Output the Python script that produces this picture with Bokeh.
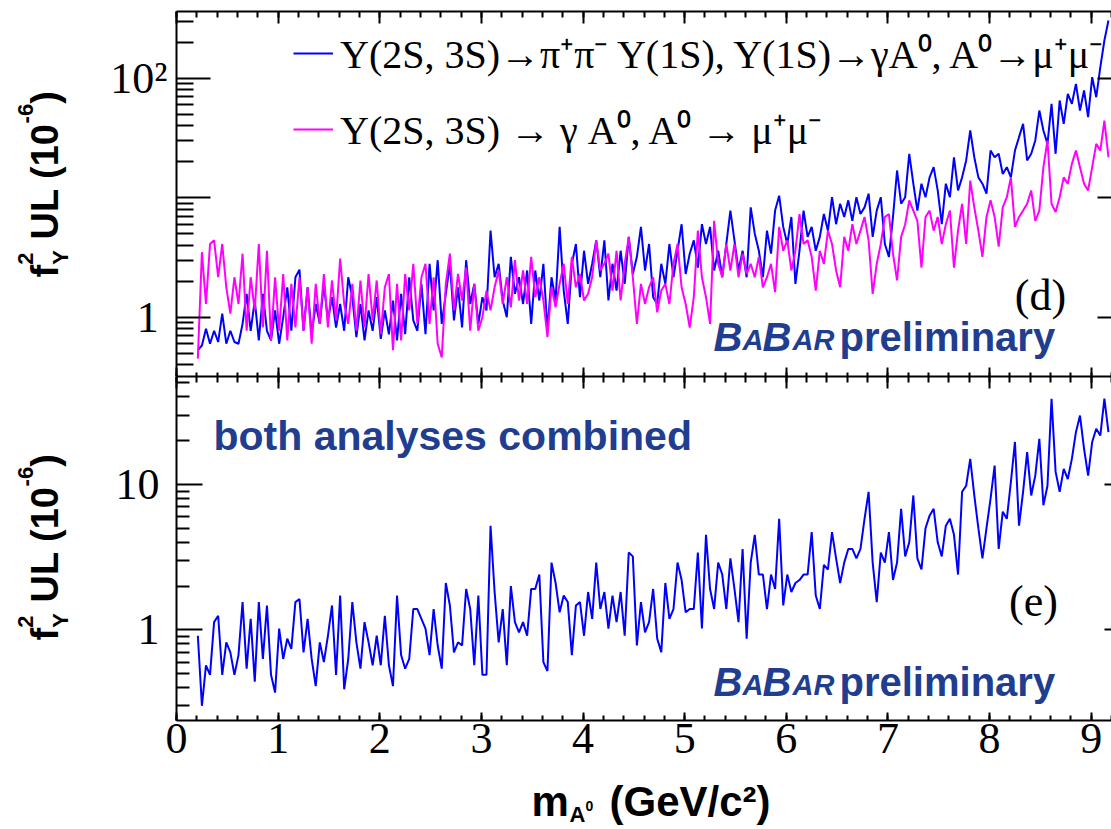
import math

from bokeh.embed import file_html
from bokeh.layouts import column, row
from bokeh.models import (CustomJSTickFormatter, FixedTicker, Label, Legend,
                          LegendItem, LinearAxis, LogAxis, Range1d)
from bokeh.plotting import figure
from bokeh.resources import INLINE

# ---------------------------------------------------------------------------
# Upper limits on f_Y^2 (units of 1e-6) versus A0 mass (GeV/c^2)
# ---------------------------------------------------------------------------
mass = [
    0.21, 0.25, 0.29, 0.33, 0.37, 0.41, 0.45, 0.49, 0.53, 0.57, 0.61, 0.65, 0.69, 0.73, 0.77,
    0.81, 0.85, 0.89, 0.93, 0.97, 1.01, 1.05, 1.09, 1.13, 1.17, 1.21, 1.25, 1.29, 1.33, 1.37,
    1.41, 1.45, 1.49, 1.53, 1.57, 1.61, 1.65, 1.69, 1.73, 1.77, 1.81, 1.85, 1.89, 1.93, 1.97,
    2.01, 2.05, 2.09, 2.13, 2.17, 2.21, 2.25, 2.29, 2.33, 2.37, 2.41, 2.45, 2.49, 2.53, 2.57,
    2.61, 2.65, 2.69, 2.73, 2.77, 2.81, 2.85, 2.89, 2.93, 2.97, 3.01, 3.05, 3.09, 3.13, 3.17,
    3.21, 3.25, 3.29, 3.33, 3.37, 3.41, 3.45, 3.49, 3.53, 3.57, 3.61, 3.65, 3.69, 3.73, 3.77,
    3.81, 3.85, 3.89, 3.93, 3.97, 4.01, 4.05, 4.09, 4.13, 4.17, 4.21, 4.25, 4.29, 4.33, 4.37,
    4.41, 4.45, 4.49, 4.53, 4.57, 4.61, 4.65, 4.69, 4.73, 4.77, 4.81, 4.85, 4.89, 4.93, 4.97,
    5.01, 5.05, 5.09, 5.13, 5.17, 5.21, 5.25, 5.29, 5.33, 5.37, 5.41, 5.45, 5.49, 5.53, 5.57,
    5.61, 5.65, 5.69, 5.73, 5.77, 5.81, 5.85, 5.89, 5.93, 5.97, 6.01, 6.05, 6.09, 6.13, 6.17,
    6.21, 6.25, 6.29, 6.33, 6.37, 6.41, 6.45, 6.49, 6.53, 6.57, 6.61, 6.65, 6.69, 6.73, 6.77,
    6.81, 6.85, 6.89, 6.93, 6.97, 7.01, 7.05, 7.09, 7.13, 7.17, 7.21, 7.25, 7.29, 7.33, 7.37,
    7.41, 7.45, 7.49, 7.53, 7.57, 7.61, 7.65, 7.69, 7.73, 7.77, 7.81, 7.85, 7.89, 7.93, 7.97,
    8.01, 8.05, 8.09, 8.13, 8.17, 8.21, 8.25, 8.29, 8.33, 8.37, 8.41, 8.45, 8.49, 8.53, 8.57,
    8.61, 8.65, 8.69, 8.73, 8.77, 8.81, 8.85, 8.89, 8.93, 8.97, 9.01, 9.05, 9.09, 9.13, 9.17,
]

# Y(2S,3S) -> pi+ pi- Y(1S), Y(1S) -> gamma A0, A0 -> mu+ mu-
ul_dipion = [
    0.53, 0.58, 0.80, 0.60, 0.77, 0.62, 1.07, 0.60, 0.77, 0.62, 0.60, 0.88, 1.57, 0.77, 1.38,
    0.64, 1.57, 0.77, 0.64, 1.14, 0.60, 1.00, 1.78, 0.77, 2.16, 2.50, 0.77, 1.78, 0.72, 1.29,
    0.88, 1.90, 0.94, 1.47, 0.82, 1.29, 0.77, 2.16, 1.47, 0.68, 1.29, 0.64, 1.14, 0.77, 1.47,
    0.66, 1.14, 0.72, 1.38, 0.64, 1.57, 0.72, 2.16, 0.94, 0.77, 1.90, 0.72, 2.80, 1.14, 3.00,
    0.88, 1.57, 2.80, 0.94, 1.78, 0.82, 3.00, 1.29, 1.90, 0.88, 1.47, 1.14, 5.30, 2.16, 2.80,
    1.38, 1.00, 3.20, 1.57, 2.16, 1.29, 2.46, 0.88, 2.46, 1.38, 2.80, 0.77, 2.16, 1.38, 5.70,
    1.67, 0.88, 2.80, 4.10, 1.47, 3.60, 1.90, 2.80, 4.40, 2.16, 4.40, 1.38, 2.80, 1.67, 3.60,
    1.90, 4.70, 2.30, 3.20, 5.70, 2.46, 4.10, 1.47, 1.29, 2.80, 1.90, 4.10, 2.16, 3.60, 6.00,
    2.30, 3.40, 4.40, 2.60, 6.00, 4.10, 5.70, 2.46, 3.60, 2.16, 4.10, 7.80, 4.40, 2.46, 3.60,
    2.16, 8.30, 5.00, 3.60, 2.16, 5.30, 3.40, 7.80, 10.4, 5.70, 4.10, 6.90, 1.90, 3.60, 7.80,
    4.70, 5.70, 3.60, 4.70, 7.30, 5.30, 10.1, 6.00, 8.90, 6.90, 9.50, 6.40, 10.1, 7.30, 8.30,
    10.8, 4.70, 7.80, 10.1, 4.10, 3.20, 6.90, 16.9, 8.90, 10.1, 23.3, 13.1, 7.80, 13.1, 10.1,
    14.8, 18.0, 11.5, 6.00, 13.1, 10.1, 21.8, 11.5, 14.8, 20.5, 36.5, 21.8, 14.8, 13.1, 10.8,
    24.8, 21.8, 23.3, 15.8, 18.0, 14.8, 24.8, 32.1, 41.5, 20.5, 23.3, 30.1, 53.6, 36.5, 28.2,
    61.0, 23.3, 65.0, 41.5, 74.0, 61.0, 89.7, 53.6, 78.9, 47.2, 101.9, 69.3, 123.6, 206.6, 303.9,
]

# Y(2S,3S) -> gamma A0, A0 -> mu+ mu-
ul_direct = [
    0.45, 3.50, 1.29, 4.10, 4.40, 2.16, 4.10, 1.78, 1.07, 2.16, 1.29, 3.40, 0.77, 2.16, 1.14,
    4.10, 0.82, 3.60, 0.64, 2.16, 0.77, 2.30, 0.64, 1.90, 0.82, 2.16, 0.77, 1.78, 0.60, 1.90,
    0.88, 2.30, 0.82, 2.03, 0.94, 3.10, 1.29, 0.88, 1.90, 0.77, 2.03, 0.82, 2.30, 0.94, 2.03,
    0.72, 1.78, 2.30, 0.53, 1.90, 0.64, 2.30, 1.14, 2.80, 0.88, 2.16, 2.80, 0.88, 2.16, 0.60,
    0.46, 1.90, 3.40, 1.14, 2.30, 1.38, 2.60, 0.77, 1.90, 0.77, 1.00, 1.67, 1.14, 1.78, 2.46,
    1.29, 2.16, 1.21, 3.00, 1.38, 2.46, 1.29, 3.20, 1.47, 2.16, 1.38, 0.68, 1.78, 1.21, 1.90,
    2.80, 1.29, 3.20, 1.78, 2.30, 1.38, 1.57, 2.16, 4.40, 2.46, 2.80, 3.40, 1.67, 3.60, 1.38,
    2.80, 4.70, 2.16, 0.88, 1.90, 1.29, 1.78, 2.16, 1.10, 1.67, 1.90, 1.29, 2.80, 4.10, 1.78,
    1.29, 0.82, 1.47, 5.30, 2.16, 1.47, 0.88, 6.40, 2.80, 2.16, 4.10, 2.46, 4.10, 2.16, 3.40,
    2.30, 2.80, 2.16, 3.20, 1.78, 2.16, 2.80, 1.62, 5.70, 3.60, 4.40, 2.46, 3.60, 7.30, 4.10,
    4.40, 3.20, 1.67, 3.60, 2.80, 5.30, 4.10, 2.46, 1.78, 4.70, 3.60, 6.00, 4.10, 5.30, 6.90,
    4.40, 1.57, 2.80, 4.10, 6.90, 7.30, 3.40, 2.03, 4.70, 6.00, 9.50, 7.80, 6.40, 2.60, 6.90,
    7.80, 5.30, 6.90, 4.10, 6.00, 7.80, 2.60, 5.30, 8.90, 4.10, 13.9, 8.30, 5.30, 3.20, 6.90,
    9.50, 6.90, 3.90, 8.30, 10.1, 14.8, 5.70, 6.90, 7.80, 8.90, 11.5, 6.40, 7.80, 18.0, 30.1,
    8.90, 7.60, 10.1, 14.8, 13.1, 19.2, 24.8, 18.0, 13.1, 11.5, 18.0, 28.2, 24.8, 44.2, 21.8,
]

# both analyses combined
ul_combined = [
    0.91, 0.30, 0.57, 0.49, 1.13, 1.25, 0.49, 0.82, 0.70, 0.49, 0.67, 1.55, 0.54, 1.19, 0.44,
    1.55, 0.63, 1.47, 0.49, 0.37, 1.02, 0.63, 0.87, 0.74, 1.55, 1.63, 0.70, 1.19, 0.63, 0.41,
    0.82, 0.60, 0.91, 1.47, 0.49, 1.72, 0.39, 0.63, 1.55, 0.82, 0.54, 1.13, 0.82, 0.57, 0.91,
    0.57, 1.25, 0.57, 0.41, 1.72, 0.67, 0.54, 0.63, 1.39, 1.39, 1.19, 1.02, 0.67, 1.39, 0.78,
    0.54, 2.10, 1.47, 0.70, 0.82, 0.78, 1.91, 1.39, 0.57, 1.72, 0.49, 0.49, 5.20, 1.82, 0.82,
    1.39, 0.57, 2.00, 1.13, 0.96, 1.13, 0.91, 1.91, 1.91, 2.40, 0.60, 0.52, 2.90, 2.10, 1.32,
    1.72, 1.55, 0.67, 1.47, 1.55, 0.91, 1.82, 1.19, 2.90, 1.39, 1.82, 1.02, 1.72, 1.13, 1.82,
    0.91, 3.40, 3.20, 0.78, 1.55, 0.96, 1.13, 1.91, 0.87, 0.70, 2.10, 1.19, 1.39, 2.90, 2.20,
    1.32, 1.39, 1.39, 3.40, 1.02, 4.50, 1.91, 1.39, 2.90, 2.40, 1.39, 3.10, 1.91, 1.13, 3.60,
    0.87, 2.90, 4.50, 2.40, 2.40, 1.39, 2.40, 1.91, 5.80, 1.47, 2.40, 1.82, 2.10, 2.20, 2.40,
    2.40, 4.70, 1.72, 1.39, 2.80, 2.60, 4.70, 3.10, 2.10, 2.90, 3.60, 3.60, 3.10, 3.60, 5.80,
    8.90, 2.90, 1.55, 3.40, 2.90, 4.70, 2.20, 2.90, 6.80, 3.20, 4.00, 8.40, 3.10, 2.60, 5.00,
    6.10, 6.80, 4.00, 3.20, 5.20, 5.80, 4.50, 2.40, 8.90, 9.80, 15.0, 8.40, 5.00, 3.10, 5.00,
    8.00, 13.5, 3.60, 6.50, 5.80, 10.4, 19.6, 5.20, 8.90, 16.7, 8.40, 11.5, 20.6, 7.20, 9.80,
    38.9, 12.2, 8.90, 12.8, 10.9, 15.0, 22.9, 29.8, 17.6, 11.5, 19.6, 24.2, 21.7, 38.9, 22.9,
]

x_major = [0, 1, 2, 3, 4, 5, 6, 7, 8, 9]
top_major = [1, 10, 100]
top_minor = [0.4, 0.5, 0.6, 0.7, 0.8, 0.9, 2, 3, 4, 5, 6, 7, 8, 9,
             20, 30, 40, 50, 60, 70, 80, 90, 200, 300]
bot_major = [1, 10]
bot_minor = [0.3, 0.4, 0.5, 0.6, 0.7, 0.8, 0.9, 2, 3, 4, 5, 6, 7, 8, 9, 20, 30, 40, 50]

legend_dipion = "Υ(2S, 3S)→π⁺π⁻ Υ(1S), Υ(1S)→γA⁰, A⁰→μ⁺μ⁻"
legend_direct = "Υ(2S, 3S) → γ A⁰, A⁰ → μ⁺μ⁻"

# ---------------------------------------------------------------------------
# styling / page geometry (canvas pixels)
# ---------------------------------------------------------------------------
BLUE = "#0000ff"
MAGENTA = "#ff00ff"
LOGO_BLUE = "#213d8f"
SERIF = "Liberation Serif"
SANS = "Liberation Sans"
# distance from the em-box middle down to the alphabetic baseline, in em
MID_TO_BASE = {SANS: 0.3465, SERIF: 0.3375}

W, H = 1111, 829
STRIP_W = 90          # column holding the rotated y titles
LEFT = 176            # left edge of both frames
TOP_Y0, SPLIT, BOT_Y1 = 11, 376, 720
PANELS_H = 776        # below this: x title row

X_RANGE = (0.0, 9.2)
TOP_RANGE = (0.3191, 361.4)
BOT_RANGE = (0.2377, 55.3)


def at_x(px):
    """data x for a horizontal canvas position"""
    return X_RANGE[0] + (px - LEFT) * (X_RANGE[1] - X_RANGE[0]) / (W - LEFT)


def at_y(py, y0, y1, yr):
    """data y (log axis) for a vertical canvas position inside a panel"""
    lo, hi = math.log10(yr[0]), math.log10(yr[1])
    return 10 ** (hi - (py - y0) / (y1 - y0) * (hi - lo))


def mid(base, size, font):
    """em-box middle for a text whose baseline sits at canvas position base"""
    return base - MID_TO_BASE[font] * size


x_minor = [round(0.2 * i, 1) for i in range(47)]


def frame_axis(ax, tick_in, minor_in):
    ax.major_tick_in = tick_in
    ax.major_tick_out = 0
    ax.minor_tick_in = minor_in
    ax.minor_tick_out = 0
    ax.axis_line_color = "black"
    ax.axis_line_width = 2
    ax.major_tick_line_color = "black"
    ax.major_tick_line_width = 2
    ax.minor_tick_line_width = 2
    ax.minor_tick_line_color = "black" if minor_in else None
    ax.axis_label = None


def silent(ax):
    ax.formatter = CustomJSTickFormatter(code="return ''")
    ax.major_label_text_font_size = "0px"
    ax.major_label_standoff = 0


def new_panel(height, yr, top_border, bottom_border):
    p = figure(width=W - STRIP_W, height=height, x_range=Range1d(*X_RANGE),
               y_range=Range1d(*yr), y_axis_type="log", output_backend="svg",
               toolbar_location=None, min_border_left=LEFT - STRIP_W, min_border_right=0,
               min_border_top=top_border, min_border_bottom=bottom_border)
    p.title.visible = False
    p.xgrid.visible = False
    p.ygrid.visible = False
    p.outline_line_color = None
    p.background_fill_color = "white"
    p.border_fill_color = "white"
    return p


def text_strip(width, height, top):
    """plain drawing area whose data units are canvas pixels (y downwards)"""
    p = figure(width=width, height=height, x_range=Range1d(0, width),
               y_range=Range1d(top + height, top), x_axis_location=None,
               y_axis_location=None, output_backend="svg", toolbar_location=None,
               min_border=0)
    p.title.visible = False
    p.xgrid.visible = False
    p.ygrid.visible = False
    p.outline_line_color = None
    p.background_fill_color = "white"
    p.border_fill_color = "white"
    return p


def text(p, x, y, s, size, font=SERIF, style="normal", color="black",
         align="left", angle=0.0):
    p.add_layout(Label(x=x, y=y, text=s, text_font=font, text_font_size=f"{size}px",
                       text_font_style=style, text_color=color, text_align=align,
                       text_baseline="middle", angle=angle))


def logo(p, base, y0, y1, yr):
    """BABAR preliminary tag with its baseline at canvas height base"""
    for s, px, size in (("B", 713, 40), ("A", 742, 29), ("B", 762, 40), ("AR", 792, 29)):
        text(p, at_x(px), at_y(mid(base, size, SANS), y0, y1, yr), s, size, SANS,
             "bold italic", LOGO_BLUE)
    text(p, at_x(839), at_y(mid(base, 40, SANS), y0, y1, yr), "preliminary", 40, SANS,
         "bold", LOGO_BLUE)


def y_title(p, py_start):
    """rotated f^2_Y UL (10^-6) title, reading upwards from canvas height py_start"""
    up = math.pi / 2
    pieces = (("f", 0.0, 58, 38), ("2", 12.7, 33, 22), ("Υ", 12.7, 68, 22),
              ("UL (10", 38.0, 58, 38), ("-6", 154.1, 33, 22), (")", 173.7, 58, 38))
    for s, shift, base_x, size in pieces:
        text(p, mid(base_x, size, SANS), py_start - shift, s, size, SANS, "bold",
             angle=up)


# ---------------------------------------------------------------------------
# upper panel (d)
# ---------------------------------------------------------------------------
top = new_panel(SPLIT, TOP_RANGE, TOP_Y0, 0)
top_left = top.left[0]
top_below = top.below[0]

r_dipion = top.line(mass, ul_dipion, line_color=BLUE, line_width=2)
r_direct = top.line(mass, ul_direct, line_color=MAGENTA, line_width=2)

top_left.ticker = FixedTicker(ticks=top_major, minor_ticks=top_minor)
frame_axis(top_left, 34, 17)
top_left.formatter = CustomJSTickFormatter(code="""
    if (Math.abs(tick - 100) < 1e-6) { return "10\u00b2"; }
    if (Math.abs(tick - 1) < 1e-6) { return "1\u2009"; }
    return "";
""")
top_left.major_label_text_font = SERIF
top_left.major_label_text_font_size = "44px"
top_left.major_label_text_color = "black"
top_left.major_label_standoff = 9

right = LogAxis(ticker=FixedTicker(ticks=top_major))
frame_axis(right, 14, 0)
right.axis_line_color = None
silent(right)
top.add_layout(right, "right")

top_below.ticker = FixedTicker(ticks=x_major, minor_ticks=x_minor)
frame_axis(top_below, 9, 4)
silent(top_below)

above = LinearAxis(ticker=FixedTicker(ticks=x_major, minor_ticks=x_minor))
frame_axis(above, 12, 6)
silent(above)
top.add_layout(above, "above")

legend = Legend(
    items=[LegendItem(label=legend_dipion, renderers=[r_dipion]),
           LegendItem(label=legend_direct, renderers=[r_direct])],
    location=(117, 220), orientation="vertical", padding=0, margin=0, spacing=21,
    glyph_width=40, glyph_height=50, label_height=50, label_standoff=7,
    label_text_font=SERIF, label_text_font_size="40px", label_text_color="black",
    border_line_color=None, background_fill_alpha=0)
top.add_layout(legend)

text(top, at_x(1040), at_y(295, TOP_Y0, SPLIT, TOP_RANGE), "(d)", 44, align="center")
logo(top, 350, TOP_Y0, SPLIT, TOP_RANGE)

# ---------------------------------------------------------------------------
# lower panel (e)
# ---------------------------------------------------------------------------
bottom = new_panel(PANELS_H - SPLIT, BOT_RANGE, 0, PANELS_H - BOT_Y1)
bot_left = bottom.left[0]
bot_below = bottom.below[0]

bottom.line(mass, ul_combined, line_color=BLUE, line_width=2)

bot_left.ticker = FixedTicker(ticks=bot_major, minor_ticks=bot_minor)
frame_axis(bot_left, 26, 13)
bot_left.formatter = CustomJSTickFormatter(code="""
    if (Math.abs(tick - 10) < 1e-6) { return "10"; }
    if (Math.abs(tick - 1) < 1e-6) { return "1"; }
    return "";
""")
bot_left.major_label_text_font = SERIF
bot_left.major_label_text_font_size = "44px"
bot_left.major_label_text_color = "black"
bot_left.major_label_standoff = 17

right = LogAxis(ticker=FixedTicker(ticks=bot_major))
frame_axis(right, 7, 0)
right.axis_line_color = None
silent(right)
bottom.add_layout(right, "right")

above = LinearAxis(ticker=FixedTicker(ticks=x_major, minor_ticks=x_minor))
frame_axis(above, 12, 6)
silent(above)
bottom.add_layout(above, "above")

bot_below.ticker = FixedTicker(ticks=x_major, minor_ticks=x_minor)
frame_axis(bot_below, 8, 5)
bot_below.major_label_text_font = SERIF
bot_below.major_label_text_font_size = "44px"
bot_below.major_label_text_color = "black"
bot_below.major_label_standoff = 3

text(bottom, at_x(1033), at_y(601, SPLIT, BOT_Y1, BOT_RANGE), "(e)", 44, align="center")
text(bottom, at_x(213), at_y(mid(450, 41, SANS), SPLIT, BOT_Y1, BOT_RANGE),
     "both analyses combined", 41, SANS, "bold", LOGO_BLUE)
logo(bottom, 695, SPLIT, BOT_Y1, BOT_RANGE)

# ---------------------------------------------------------------------------
# axis titles
# ---------------------------------------------------------------------------
ytitles = text_strip(STRIP_W, PANELS_H, 0)
y_title(ytitles, 277)
y_title(ytitles, 640)

xtitle = text_strip(W, H - PANELS_H, PANELS_H)
text(xtitle, 531, mid(816, 42, SANS), "m", 42, SANS, "bold")
text(xtitle, 569, mid(822, 22, SANS), "A", 22, SANS, "bold")
text(xtitle, 585, mid(810, 14, SANS), "0", 14, SANS, "bold")
text(xtitle, 609, mid(816, 42, SANS), "(GeV/c\u00b2)", 42, SANS, "bold")

page = column(row(ytitles, column(top, bottom, spacing=0), spacing=0), xtitle, spacing=0)
with open("out.html", "w") as fh:
    fh.write(file_html(page, INLINE))
